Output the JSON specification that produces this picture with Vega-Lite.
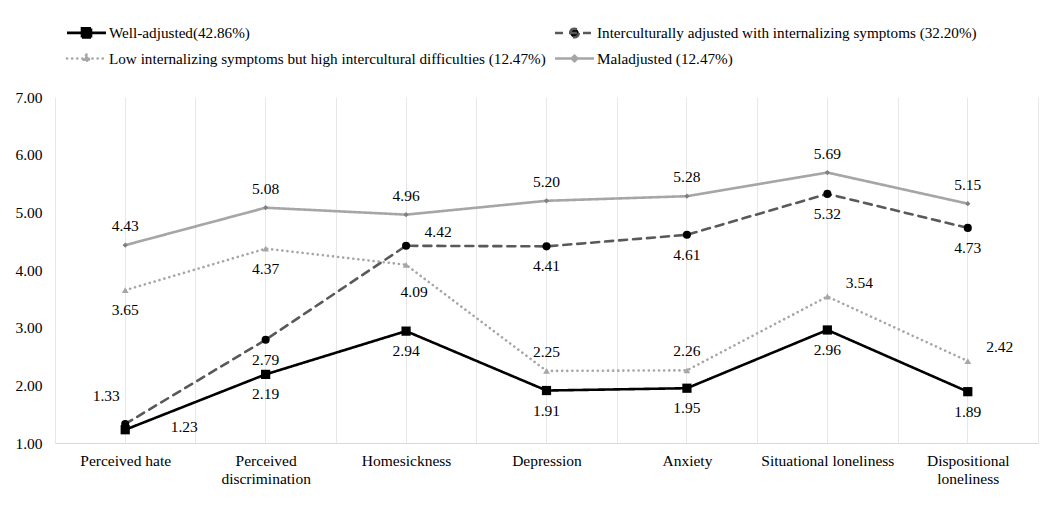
{
  "$schema": "https://vega.github.io/schema/vega-lite/v6.json",
  "width": 983,
  "height": 346,
  "autosize": "none",
  "padding": {"left": 55, "top": 97, "right": 16, "bottom": 87},
  "background": "white",
  "config": {
    "view": {"stroke": null},
    "font": "Liberation Serif",
    "text": {"font": "Liberation Serif", "fontSize": 15.5, "color": "#000000"}
  },
  "data": {
    "values": [
      {"group": "Well-adjusted(42.86%)", "measure": "Perceived hate", "score": 1.23},
      {"group": "Well-adjusted(42.86%)", "measure": "Perceived discrimination", "score": 2.19},
      {"group": "Well-adjusted(42.86%)", "measure": "Homesickness", "score": 2.94},
      {"group": "Well-adjusted(42.86%)", "measure": "Depression", "score": 1.91},
      {"group": "Well-adjusted(42.86%)", "measure": "Anxiety", "score": 1.95},
      {"group": "Well-adjusted(42.86%)", "measure": "Situational loneliness", "score": 2.96},
      {"group": "Well-adjusted(42.86%)", "measure": "Dispositional loneliness", "score": 1.89},
      {"group": "Interculturally adjusted with internalizing symptoms (32.20%)", "measure": "Perceived hate", "score": 1.33},
      {"group": "Interculturally adjusted with internalizing symptoms (32.20%)", "measure": "Perceived discrimination", "score": 2.79},
      {"group": "Interculturally adjusted with internalizing symptoms (32.20%)", "measure": "Homesickness", "score": 4.42},
      {"group": "Interculturally adjusted with internalizing symptoms (32.20%)", "measure": "Depression", "score": 4.41},
      {"group": "Interculturally adjusted with internalizing symptoms (32.20%)", "measure": "Anxiety", "score": 4.61},
      {"group": "Interculturally adjusted with internalizing symptoms (32.20%)", "measure": "Situational loneliness", "score": 5.32},
      {"group": "Interculturally adjusted with internalizing symptoms (32.20%)", "measure": "Dispositional loneliness", "score": 4.73},
      {"group": "Low internalizing symptoms but high intercultural difficulties (12.47%)", "measure": "Perceived hate", "score": 3.65},
      {"group": "Low internalizing symptoms but high intercultural difficulties (12.47%)", "measure": "Perceived discrimination", "score": 4.37},
      {"group": "Low internalizing symptoms but high intercultural difficulties (12.47%)", "measure": "Homesickness", "score": 4.09},
      {"group": "Low internalizing symptoms but high intercultural difficulties (12.47%)", "measure": "Depression", "score": 2.25},
      {"group": "Low internalizing symptoms but high intercultural difficulties (12.47%)", "measure": "Anxiety", "score": 2.26},
      {"group": "Low internalizing symptoms but high intercultural difficulties (12.47%)", "measure": "Situational loneliness", "score": 3.54},
      {"group": "Low internalizing symptoms but high intercultural difficulties (12.47%)", "measure": "Dispositional loneliness", "score": 2.42},
      {"group": "Maladjusted (12.47%)", "measure": "Perceived hate", "score": 4.43},
      {"group": "Maladjusted (12.47%)", "measure": "Perceived discrimination", "score": 5.08},
      {"group": "Maladjusted (12.47%)", "measure": "Homesickness", "score": 4.96},
      {"group": "Maladjusted (12.47%)", "measure": "Depression", "score": 5.20},
      {"group": "Maladjusted (12.47%)", "measure": "Anxiety", "score": 5.28},
      {"group": "Maladjusted (12.47%)", "measure": "Situational loneliness", "score": 5.69},
      {"group": "Maladjusted (12.47%)", "measure": "Dispositional loneliness", "score": 5.15}
    ]
  },
  "resolve": {"axis": {"x": "independent"}},
  "layer": [
    {
      "mark": {"type": "line", "strokeWidth": 2.6, "strokeCap": "round"},
      "encoding": {
        "x": {
          "field": "measure", "type": "nominal", "sort": null,
          "scale": {"type": "band", "paddingInner": 0, "paddingOuter": 0},
          "axis": {
            "title": null, "orient": "bottom", "ticks": false, "labelAngle": 0,
            "labelFontSize": 15.5, "labelColor": "#000000", "labelFont": "Liberation Serif",
            "labelPadding": 10, "labelLineHeight": 18,
            "domainColor": "#d9d9d9", "domainWidth": 1,
            "grid": true, "tickBand": "extent", "gridColor": "#e8e8e8", "gridWidth": 1,
            "labelExpr": "datum.label == 'Perceived discrimination' ? ['Perceived', 'discrimination'] : datum.label == 'Dispositional loneliness' ? ['Dispositional', 'loneliness'] : datum.label"
          }
        },
        "y": {
          "field": "score", "type": "quantitative",
          "scale": {"domain": [1, 7], "nice": false, "zero": false},
          "axis": {
            "title": null, "values": [1, 2, 3, 4, 5, 6, 7], "format": ".2f",
            "grid": false, "domain": false, "ticks": false,
            "labelFontSize": 15.5, "labelColor": "#000000", "labelFont": "Liberation Serif",
            "labelPadding": 13
          }
        },
        "color": {
          "field": "group", "type": "nominal",
          "scale": {
            "domain": ["Well-adjusted(42.86%)", "Interculturally adjusted with internalizing symptoms (32.20%)", "Low internalizing symptoms but high intercultural difficulties (12.47%)", "Maladjusted (12.47%)"],
            "range": ["#000000", "#595959", "#a6a6a6", "#a6a6a6"]
          },
          "legend": {
            "title": null, "orient": "none", "legendX": 20, "legendY": -76,
            "direction": "horizontal", "columns": 2, "columnPadding": 3, "rowPadding": 4,
            "labelFontSize": 15.2, "labelFont": "Liberation Serif", "labelColor": "#000000",
            "symbolSize": 400, "symbolStrokeWidth": 2.6, "labelOffset": 11, "labelLimit": 600,
            "encode": {
              "symbols": {
                "update": {
                  "size": {"value": 400},
                  "strokeWidth": {"value": 2.6},
                  "shape": {"signal": "datum.value == 'Well-adjusted(42.86%)' ? 'M-1.95,0L1.95,0M-0.45,-0.45L0.45,-0.45L0.45,0.45L-0.45,0.45Z' : datum.value == 'Interculturally adjusted with internalizing symptoms (32.20%)' ? 'M-1.95,0L1.95,0M0.43,0A0.43,0.43,0,1,1,-0.43,0A0.43,0.43,0,1,1,0.43,0Z' : datum.value == 'Maladjusted (12.47%)' ? 'M-1.95,0L1.95,0M0,-0.27L0.27,0L0,0.27L-0.27,0Z' : 'M-1.95,0L1.95,0M0,-0.4L0.35,0.23L-0.35,0.23Z'"},
                  "fill": {"signal": "datum.value == 'Well-adjusted(42.86%)' ? '#000000' : datum.value == 'Interculturally adjusted with internalizing symptoms (32.20%)' ? '#000000' : datum.value == 'Maladjusted (12.47%)' ? '#808080' : '#a6a6a6'"},
                  "stroke": {"signal": "datum.value == 'Well-adjusted(42.86%)' ? '#000000' : datum.value == 'Interculturally adjusted with internalizing symptoms (32.20%)' ? '#595959' : '#a6a6a6'"},
                  "strokeDash": {"signal": "datum.value == 'Well-adjusted(42.86%)' ? [1, 0] : datum.value == 'Interculturally adjusted with internalizing symptoms (32.20%)' ? [6, 4] : datum.value == 'Maladjusted (12.47%)' ? [1, 0] : [0.1, 4.5]"},
                  "strokeCap": {"signal": "datum.value == 'Low internalizing symptoms but high intercultural difficulties (12.47%)' ? 'round' : 'butt'"},
                  "opacity": {"value": 1}
                }
              }
            }
          }
        },
        "strokeDash": {
          "field": "group", "type": "nominal",
          "scale": {
            "domain": ["Well-adjusted(42.86%)", "Interculturally adjusted with internalizing symptoms (32.20%)", "Low internalizing symptoms but high intercultural difficulties (12.47%)", "Maladjusted (12.47%)"],
            "range": [[1, 0], [8, 6], [0.1, 5], [1, 0]]
          },
          "legend": null
        }
      }
    },
    {
      "mark": {"type": "point", "filled": true, "opacity": 1},
      "encoding": {
        "x": {
          "field": "measure", "type": "nominal", "sort": null,
          "axis": {"title": null, "orient": "bottom", "labels": false, "ticks": false, "domain": false, "grid": true, "gridColor": "#e8e8e8", "gridWidth": 1}
        },
        "y": {"field": "score", "type": "quantitative"},
        "shape": {
          "condition": [
            {"test": "datum.group == 'Well-adjusted(42.86%)'", "value": "square"},
            {"test": "datum.group == 'Interculturally adjusted with internalizing symptoms (32.20%)'", "value": "circle"},
            {"test": "datum.group == 'Low internalizing symptoms but high intercultural difficulties (12.47%)'", "value": "triangle-up"}
          ],
          "value": "diamond"
        },
        "fill": {
          "condition": [
            {"test": "datum.group == 'Well-adjusted(42.86%)'", "value": "#000000"},
            {"test": "datum.group == 'Interculturally adjusted with internalizing symptoms (32.20%)'", "value": "#000000"},
            {"test": "datum.group == 'Low internalizing symptoms but high intercultural difficulties (12.47%)'", "value": "#a6a6a6"}
          ],
          "value": "#808080"
        },
        "size": {
          "condition": [
            {"test": "datum.group == 'Well-adjusted(42.86%)'", "value": 85},
            {"test": "datum.group == 'Interculturally adjusted with internalizing symptoms (32.20%)'", "value": 65},
            {"test": "datum.group == 'Low internalizing symptoms but high intercultural difficulties (12.47%)'", "value": 45}
          ],
          "value": 28
        }
      }
    },
    {
      "transform": [{"filter": "datum.group == 'Maladjusted (12.47%)' || (datum.group == 'Low internalizing symptoms but high intercultural difficulties (12.47%)' && (datum.measure == 'Depression' || datum.measure == 'Anxiety'))"}],
      "mark": {"type": "text", "dy": -19, "baseline": "middle"},
      "encoding": {
        "x": {"field": "measure", "type": "nominal", "sort": null, "axis": null},
        "y": {"field": "score", "type": "quantitative"},
        "text": {"field": "score", "type": "quantitative", "format": ".2f"}
      }
    },
    {
      "transform": [{"filter": "(datum.group == 'Well-adjusted(42.86%)' && datum.measure != 'Perceived hate') || (datum.group == 'Interculturally adjusted with internalizing symptoms (32.20%)' && datum.measure != 'Perceived hate' && datum.measure != 'Homesickness') || (datum.group == 'Low internalizing symptoms but high intercultural difficulties (12.47%)' && (datum.measure == 'Perceived hate' || datum.measure == 'Perceived discrimination'))"}],
      "mark": {"type": "text", "dy": 20, "baseline": "middle"},
      "encoding": {
        "x": {"field": "measure", "type": "nominal", "sort": null, "axis": null},
        "y": {"field": "score", "type": "quantitative"},
        "text": {"field": "score", "type": "quantitative", "format": ".2f"}
      }
    },
    {
      "transform": [{"filter": "datum.group == 'Low internalizing symptoms but high intercultural difficulties (12.47%)' && datum.measure == 'Homesickness'"}],
      "mark": {"type": "text", "dx": 8, "dy": 27, "baseline": "middle"},
      "encoding": {
        "x": {"field": "measure", "type": "nominal", "sort": null, "axis": null},
        "y": {"field": "score", "type": "quantitative"},
        "text": {"field": "score", "type": "quantitative", "format": ".2f"}
      }
    },
    {
      "transform": [{"filter": "(datum.group == 'Low internalizing symptoms but high intercultural difficulties (12.47%)' && (datum.measure == 'Situational loneliness' || datum.measure == 'Dispositional loneliness')) || (datum.group == 'Interculturally adjusted with internalizing symptoms (32.20%)' && datum.measure == 'Homesickness')"}],
      "mark": {"type": "text", "dx": 32, "dy": -14, "baseline": "middle"},
      "encoding": {
        "x": {"field": "measure", "type": "nominal", "sort": null, "axis": null},
        "y": {"field": "score", "type": "quantitative"},
        "text": {"field": "score", "type": "quantitative", "format": ".2f"}
      }
    },
    {
      "transform": [{"filter": "datum.group == 'Well-adjusted(42.86%)' && datum.measure == 'Perceived hate'"}],
      "mark": {"type": "text", "dx": 59, "dy": -3, "baseline": "middle"},
      "encoding": {
        "x": {"field": "measure", "type": "nominal", "sort": null, "axis": null},
        "y": {"field": "score", "type": "quantitative"},
        "text": {"field": "score", "type": "quantitative", "format": ".2f"}
      }
    },
    {
      "transform": [{"filter": "datum.group == 'Interculturally adjusted with internalizing symptoms (32.20%)' && datum.measure == 'Perceived hate'"}],
      "mark": {"type": "text", "dx": -19, "dy": -28, "baseline": "middle"},
      "encoding": {
        "x": {"field": "measure", "type": "nominal", "sort": null, "axis": null},
        "y": {"field": "score", "type": "quantitative"},
        "text": {"field": "score", "type": "quantitative", "format": ".2f"}
      }
    }
  ]
}
